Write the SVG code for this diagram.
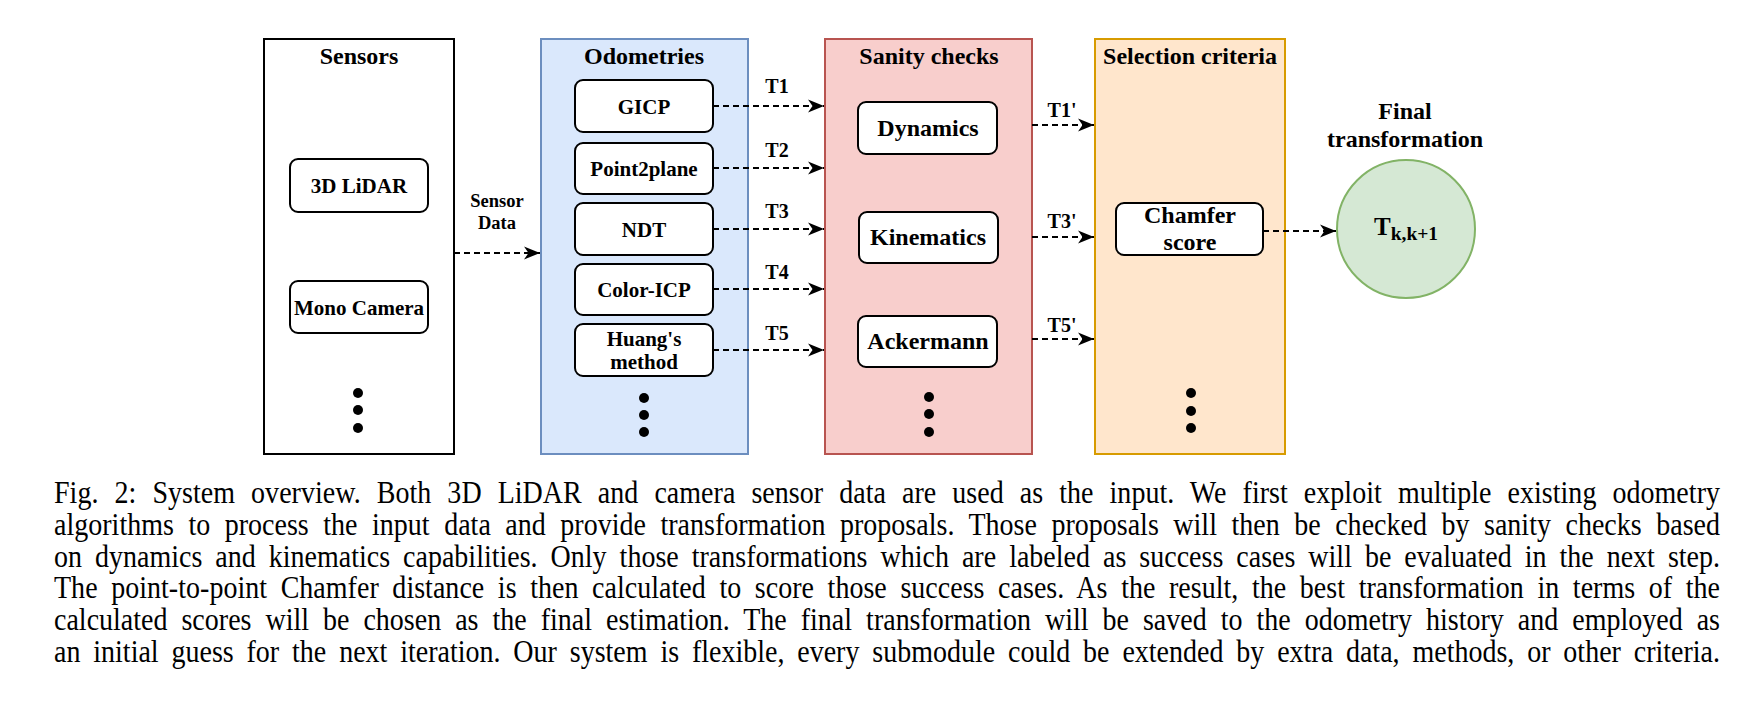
<svg xmlns="http://www.w3.org/2000/svg" width="1748" height="702" viewBox="0 0 1748 702">
<defs>
<marker id="arr" markerUnits="userSpaceOnUse" markerWidth="17" markerHeight="14" refX="16" refY="7" orient="auto">
<path d="M0,0.5 L16,7 L0,13.5 L4.5,7 Z" fill="#000"/>
</marker>
<style>
.title{font-family:"Liberation Serif",serif;font-weight:bold;font-size:24px;text-anchor:middle;fill:#000}
.bx{fill:#fff;stroke:#000;stroke-width:2}
.bt{font-family:"Liberation Serif",serif;font-weight:bold;font-size:21px;text-anchor:middle;fill:#000}
.bt2{font-family:"Liberation Serif",serif;font-weight:bold;font-size:24px;text-anchor:middle;fill:#000}
.lbl{font-family:"Liberation Serif",serif;font-weight:bold;font-size:20px;text-anchor:middle;fill:#000}
.lbls{font-family:"Liberation Serif",serif;font-weight:bold;font-size:18.5px;text-anchor:middle;fill:#000}
.edge{stroke:#000;stroke-width:2;stroke-dasharray:6 4;fill:none;marker-end:url(#arr)}
.dot{fill:#000}
.cap{font-family:"Liberation Serif",serif;font-size:28px;fill:#000}
</style>
</defs>

<g id="sensors">
<rect x="264" y="39" width="190" height="415" fill="#fff" stroke="#000" stroke-width="2"/>
<text class="title" x="359" y="64">Sensors</text>
<rect class="bx" x="290" y="159" width="138" height="53" rx="8"/>
<text class="bt" x="359" y="193">3D LiDAR</text>
<rect class="bx" x="290" y="281" width="138" height="52" rx="8"/>
<text class="bt" x="359" y="315">Mono Camera</text>
<circle class="dot" cx="358" cy="393" r="5"/>
<circle class="dot" cx="358" cy="410" r="5"/>
<circle class="dot" cx="358" cy="428" r="5"/>
</g>

<g id="odometries">
<rect x="541" y="39" width="207" height="415" fill="#dae8fc" stroke="#6c8ebf" stroke-width="2"/>
<text class="title" x="644" y="64">Odometries</text>
<rect class="bx" x="575" y="80" width="138" height="52" rx="8"/>
<text class="bt" x="644" y="114">GICP</text>
<rect class="bx" x="575" y="143" width="138" height="51" rx="8"/>
<text class="bt" x="644" y="176">Point2plane</text>
<rect class="bx" x="575" y="203" width="138" height="52" rx="8"/>
<text class="bt" x="644" y="237">NDT</text>
<rect class="bx" x="575" y="264" width="138" height="51" rx="8"/>
<text class="bt" x="644" y="297">Color-ICP</text>
<rect class="bx" x="575" y="324" width="138" height="52" rx="8"/>
<text class="bt" x="644" y="346">Huang's</text>
<text class="bt" x="644" y="369">method</text>
<circle class="dot" cx="644" cy="398" r="5"/>
<circle class="dot" cx="644" cy="415" r="5"/>
<circle class="dot" cx="644" cy="432" r="5"/>
</g>

<g id="sanity">
<rect x="825" y="39" width="207" height="415" fill="#f8cecc" stroke="#b85450" stroke-width="2"/>
<text class="title" x="929" y="64">Sanity checks</text>
<rect class="bx" x="858" y="102" width="139" height="52" rx="8"/>
<text class="bt2" x="928" y="136">Dynamics</text>
<rect class="bx" x="859" y="212" width="139" height="51" rx="8"/>
<text class="bt2" x="928" y="245">Kinematics</text>
<rect class="bx" x="858" y="316" width="139" height="51" rx="8"/>
<text class="bt2" x="928" y="349">Ackermann</text>
<circle class="dot" cx="929" cy="397" r="5"/>
<circle class="dot" cx="929" cy="414" r="5"/>
<circle class="dot" cx="929" cy="432" r="5"/>
</g>

<g id="selection">
<rect x="1095" y="39" width="190" height="415" fill="#ffe6cc" stroke="#d79b00" stroke-width="2"/>
<text class="title" x="1190" y="64">Selection criteria</text>
<rect class="bx" x="1116" y="203" width="147" height="52" rx="8"/>
<text class="bt2" x="1190" y="223">Chamfer</text>
<text class="bt2" x="1190" y="250">score</text>
<circle class="dot" cx="1191" cy="393" r="5"/>
<circle class="dot" cx="1191" cy="411" r="5"/>
<circle class="dot" cx="1191" cy="428" r="5"/>
</g>

<g id="final">
<text class="title" x="1405" y="119">Final</text>
<text class="title" x="1405" y="147">transformation</text>
<circle cx="1406" cy="229" r="69" fill="#d5e8d4" stroke="#82b366" stroke-width="2"/>
<text x="1374" y="235" font-family="Liberation Serif, serif" font-weight="bold" font-size="25" fill="#000">T<tspan font-size="19.5" dy="5">k,k+1</tspan></text>
</g>

<g id="connectors">
<line class="edge" x1="454" y1="253" x2="540" y2="253"/>
<text class="lbls" x="497" y="207">Sensor</text>
<text class="lbls" x="497" y="229">Data</text>
<line class="edge" x1="713" y1="106" x2="824" y2="106"/>
<line class="edge" x1="713" y1="168" x2="824" y2="168"/>
<line class="edge" x1="713" y1="229" x2="824" y2="229"/>
<line class="edge" x1="713" y1="289" x2="824" y2="289"/>
<line class="edge" x1="713" y1="350" x2="824" y2="350"/>
<text class="lbl" x="777" y="93">T1</text>
<text class="lbl" x="777" y="157">T2</text>
<text class="lbl" x="777" y="218">T3</text>
<text class="lbl" x="777" y="279">T4</text>
<text class="lbl" x="777" y="340">T5</text>
<line class="edge" x1="1032" y1="125" x2="1094" y2="125"/>
<line class="edge" x1="1032" y1="237" x2="1094" y2="237"/>
<line class="edge" x1="1032" y1="339" x2="1094" y2="339"/>
<text class="lbl" x="1062" y="117">T1'</text>
<text class="lbl" x="1062" y="228">T3'</text>
<text class="lbl" x="1062" y="332">T5'</text>
<line class="edge" x1="1263" y1="231" x2="1336" y2="231"/>
</g>

<g id="caption" transform="scale(1,1.1)">
<text class="cap" x="54" y="457.3" word-spacing="9" textLength="1666" lengthAdjust="spacing">Fig. 2: System overview. Both 3D LiDAR and camera sensor data are used as the input. We first exploit multiple existing odometry</text>
<text class="cap" x="54" y="486.4" word-spacing="7.5" textLength="1666" lengthAdjust="spacing">algorithms to process the input data and provide transformation proposals. Those proposals will then be checked by sanity checks based</text>
<text class="cap" x="54" y="515.5" word-spacing="6" textLength="1666" lengthAdjust="spacing">on dynamics and kinematics capabilities. Only those transformations which are labeled as success cases will be evaluated in the next step.</text>
<text class="cap" x="54" y="543.6" word-spacing="6.6" textLength="1666" lengthAdjust="spacing">The point-to-point Chamfer distance is then calculated to score those success cases. As the result, the best transformation in terms of the</text>
<text class="cap" x="54" y="572.7" word-spacing="7" textLength="1666" lengthAdjust="spacing">calculated scores will be chosen as the final estimation. The final transformation will be saved to the odometry history and employed as</text>
<text class="cap" x="54" y="601.8" word-spacing="5.9" textLength="1666" lengthAdjust="spacing">an initial guess for the next iteration. Our system is flexible, every submodule could be extended by extra data, methods, or other criteria.</text>
</g>
</svg>
